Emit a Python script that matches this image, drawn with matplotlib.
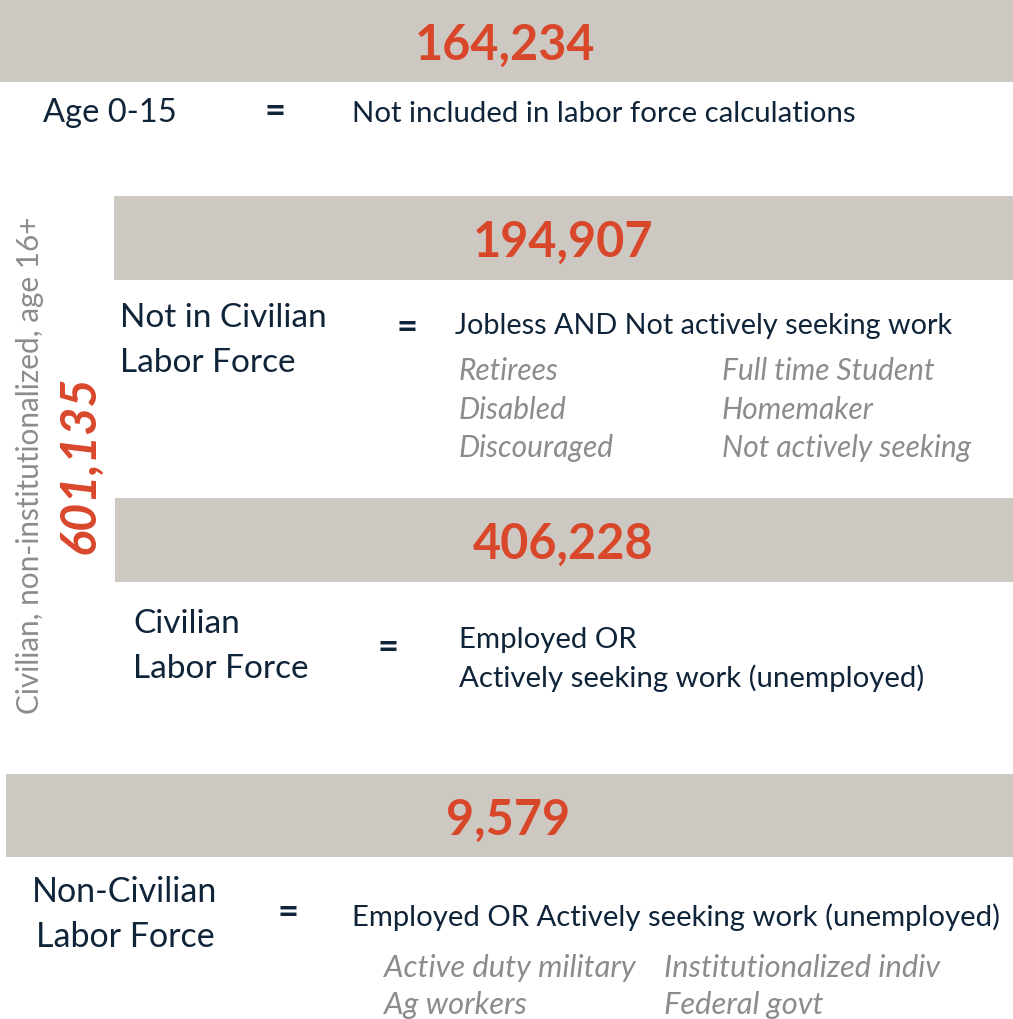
import matplotlib
matplotlib.use("Agg")
import matplotlib.pyplot as plt
from matplotlib.patches import Rectangle
from matplotlib import font_manager

# ---- data ----
totals = ["164,234", "194,907", "406,228", "9,579"]
group_total = "601,135"
group_label = "Civilian, non-institutionalized, age 16+"
labels = [["Age 0-15"], ["Not in Civilian", "Labor Force"],
          ["Civilian", "Labor Force"], ["Non-Civilian", "Labor Force"]]
definitions = [["Not included in labor force calculations"],
               ["Jobless AND Not actively seeking work"],
               ["Employed OR", "Actively seeking work (unemployed)"],
               ["Employed OR Actively seeking work (unemployed)"]]
examples_nilf = [["Retirees", "Disabled", "Discouraged"],
                 ["Full time Student", "Homemaker", "Not actively seeking"]]
examples_noncivil = [["Active duty military", "Ag workers"],
                     ["Institutionalized indiv", "Federal govt"]]

# ---- style ----
names = {f.name for f in font_manager.fontManager.ttflist}
MAIN = "Lato" if "Lato" in names else "DejaVu Sans"
BAND = "#CDC9C2"
ORANGE = "#D9472B"
NAVY = "#0F2438"
GRAY = "#8C8C8C"
DY = 2.5

fig = plt.figure(figsize=(10.13, 10.20), dpi=100)
ax = fig.add_axes([0, 0, 1, 1])
ax.set_xlim(0, 1013)
ax.set_ylim(1020, 0)
ax.axis("off")

# bands: (x0, y0, x1, y1, number center x)
bands = [(0, 0, 1013, 83, 505), (114, 197, 1013, 281, 563),
         (115, 499, 1013, 583, 563), (6, 775, 1013, 858, 508)]
for (x0, y0, x1, y1, cx), num in zip(bands, totals):
    ax.add_patch(Rectangle((x0, y0), x1 - x0, y1 - y0, color=BAND, lw=0))
    ax.text(cx, (y0 + y1) / 2 + 1 + DY, num, ha="center", va="center", color=ORANGE,
            fontsize=35, fontweight="bold", family=MAIN)

def t(x, y, s, ha="left", size=20, color=NAVY, style="normal", weight="normal"):
    ax.text(x, y + DY, s, ha=ha, va="center", fontsize=size, color=color, style=style,
            family=MAIN, fontweight=weight)

def eq(x, y):
    t(x, y, "=", ha="center", size=26, weight="bold")

# section 1
t(43, 111, labels[0][0], size=23.5)
eq(275, 109)
t(352, 111, definitions[0][0], size=21.2)

# vertical group label
ax.text(30, 465, group_label, rotation=90, ha="center", va="center",
        fontsize=21.4, color=GRAY, family=MAIN)
ax.text(80, 465, group_total, rotation=90, ha="center", va="center",
        fontsize=35, color=ORANGE, family=MAIN, fontweight="bold", style="italic")

# section 2
for s, y in zip(labels[1], [316, 361]):
    t(120, y, s, size=24)
eq(407, 325)
t(455, 324, definitions[1][0], size=20.7)
ys = [369, 408, 446]
for col, x in zip(examples_nilf, [459, 722]):
    for s, y in zip(col, ys):
        t(x, y, s, size=21.5, color=GRAY, style="italic")

# section 3
for s, y in zip(labels[2], [622, 667]):
    t(133, y, s, size=24)
eq(388, 645)
for s, y in zip(definitions[2], [638, 676]):
    t(459, y, s, size=21.2)

# section 4
for s, y in zip(labels[3], [890, 935]):
    t(125, y, s, ha="center", size=24.5)
eq(288, 910)
t(352, 915, definitions[3][0], size=21.1)
ys = [966, 1003]
for col, x in zip(examples_noncivil, [384, 664]):
    for s, y in zip(col, ys):
        t(x, y, s, size=22.2, color=GRAY, style="italic")

fig.savefig("out.png", dpi=100, facecolor="white")
